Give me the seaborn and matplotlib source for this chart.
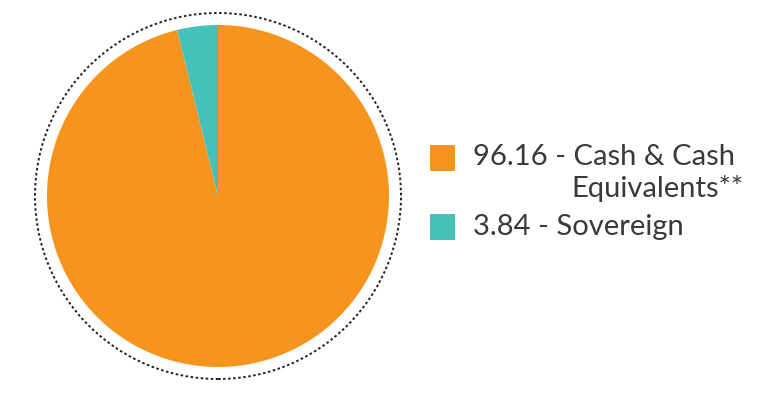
import matplotlib
matplotlib.use("Agg")
import matplotlib.pyplot as plt
import seaborn as sns
from matplotlib.patches import Circle, Rectangle

sns.set_theme(style="white")
plt.rcParams['font.family'] = ['Lato', 'DejaVu Sans']

labels = ["96.16 - Cash & Cash Equivalents**", "3.84 - Sovereign"]
values = [96.16, 3.84]
colors = ["#F7941D", "#45C1B9"]

W, H = 759, 396
fig = plt.figure(figsize=(W / 100, H / 100), dpi=100)
fig.patch.set_facecolor("white")

R = 171.0
cx, cy = 218, 196
half = 190
ax = fig.add_axes([(cx - half) / W, (H - cy - half) / H, 2 * half / W, 2 * half / H])
ax.pie(values, colors=colors, startangle=90, counterclock=False, radius=1.0,
       wedgeprops=dict(linewidth=0))
ax.add_patch(Circle((0, 0), 183 / R, fill=False, edgecolor="#222222",
                    linestyle=(0, (1.3, 1.3)), linewidth=1.4))
lim = half / R
ax.set_xlim(-lim, lim)
ax.set_ylim(-lim, lim)
ax.set_aspect("equal")
ax.axis("off")

def fx(px):
    return px / W

def fy(py):
    return (H - py) / H

txt_color = "#3a3a3a"
fs = 21
# legend swatches
fig.patches.append(Rectangle((fx(430), fy(171)), 25 / W, 26 / H, transform=fig.transFigure,
                             facecolor=colors[0], edgecolor="none"))
fig.patches.append(Rectangle((fx(430), fy(240)), 25 / W, 26 / H, transform=fig.transFigure,
                             facecolor=colors[1], edgecolor="none"))
fig.text(fx(473), fy(165), "96.16 - Cash & Cash", fontsize=fs, color=txt_color,
         va="baseline", ha="left")
fig.text(fx(744), fy(197), "Equivalents**", fontsize=fs, color=txt_color,
         va="baseline", ha="right")
fig.text(fx(473), fy(235), "3.84 - Sovereign", fontsize=fs, color=txt_color,
         va="baseline", ha="left")

fig.savefig("out.png", dpi=100, facecolor="white")
